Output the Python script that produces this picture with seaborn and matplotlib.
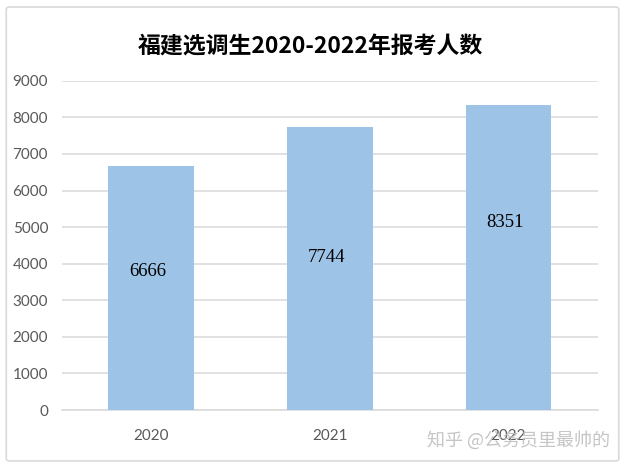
import matplotlib
matplotlib.use('Agg')
import matplotlib.pyplot as plt
import seaborn as sns
import pandas as pd
from matplotlib.patches import FancyBboxPatch

# data
years = ["2020", "2021", "2022"]
applicants = [6666, 7744, 8351]
yticks = [0, 1000, 2000, 3000, 4000, 5000, 6000, 7000, 8000, 9000]

title = "福建选调生2020-2022年报考人数"
watermark = "知乎 @公务员里最帅的"

# label heights as they sit in the original (not exactly centred)
label_y = [3780, 4160, 5130]

df = pd.DataFrame({"year": years, "applicants": applicants})

sns.set_theme(style="white")
plt.rcParams['font.family'] = ['Lato', 'Noto Sans CJK SC', 'DejaVu Sans']

fig = plt.figure(figsize=(6.25, 4.67), dpi=100)
ax = fig.add_axes([0.0992, 0.122, 0.857, 0.705])

sns.barplot(data=df, x="year", y="applicants", color="#9DC3E6",
            saturation=1, width=0.48, ax=ax, zorder=3, edgecolor="none")

ax.set_ylim(0, 9000)
ax.set_xlim(-0.5, 2.5)
ax.set_yticks(yticks)
ax.set_yticklabels([str(t) for t in yticks])
ax.yaxis.grid(True, color="#D9D9D9", linewidth=1.1, zorder=0)
ax.set_axisbelow(True)
ax.set_xlabel("")
ax.set_ylabel("")

for s in ["top", "right", "left"]:
    ax.spines[s].set_visible(False)
ax.spines["bottom"].set_color("#D9D9D9")
ax.spines["bottom"].set_linewidth(1.1)

# tick marks sit between categories
ax.set_xticks([-0.5, 0.5, 1.5, 2.5], minor=True)
ax.tick_params(axis="x", which="minor", length=5, color="#D9D9D9", width=1.1, direction="out")
ax.tick_params(axis="x", which="major", length=0, pad=14, labelsize=11, labelcolor="#595959")
ax.tick_params(axis="y", length=0, pad=10, labelsize=11, labelcolor="#595959")

for i, (v, ly) in enumerate(zip(applicants, label_y)):
    ax.text(i - 0.02, ly, str(v), ha="center", va="center", fontsize=13.5,
            family="Liberation Serif", color="black", zorder=4)

fig.text(0.497, 0.9, title, ha="center", va="center", fontsize=16.5, fontweight="bold",
         family=["Noto Sans CJK SC", "DejaVu Sans"], color="black")

fig.text(0.83, 0.058, watermark, ha="center", va="center", fontsize=13,
         family=["Noto Sans CJK SC", "DejaVu Sans"], color="#BFBFBF", alpha=0.9, zorder=5)

# outer chart border
border = FancyBboxPatch((0.01, 0.013), 0.98, 0.972, boxstyle="round,pad=0,rounding_size=0.005",
                        transform=fig.transFigure, fill=False, edgecolor="#D9D9D9", linewidth=1.2)
fig.patches.append(border)

fig.savefig("out.png", dpi=100)
plt.close(fig)
